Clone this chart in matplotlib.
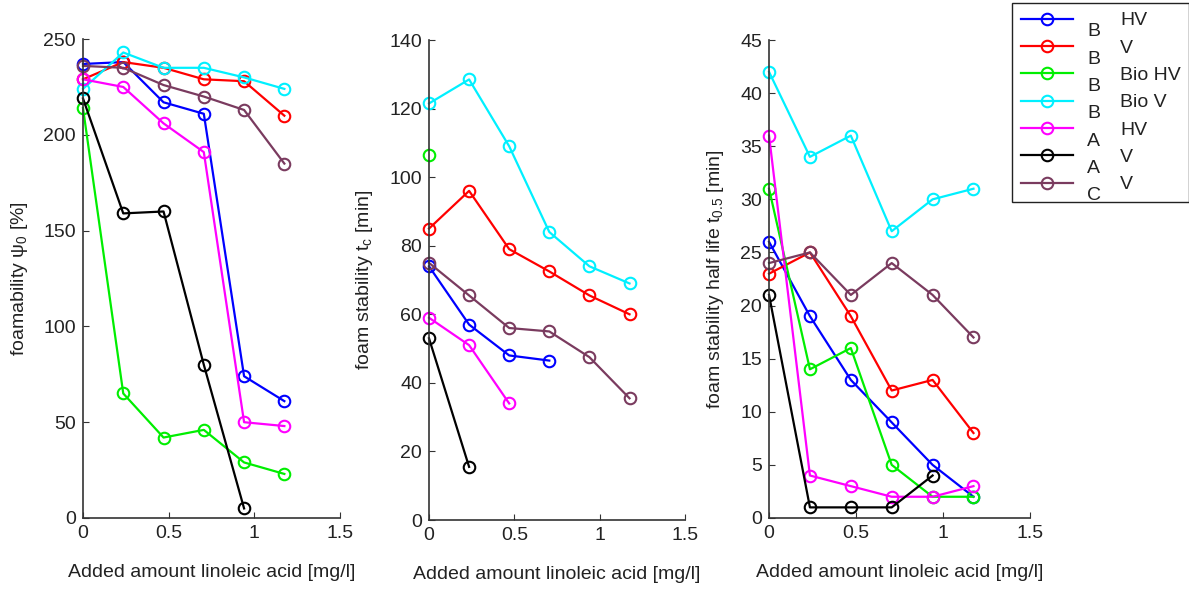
import matplotlib
matplotlib.use("Agg")
import matplotlib.pyplot as plt
from matplotlib.transforms import IdentityTransform

plt.rcParams['font.family'] = ['Liberation Sans', 'DejaVu Sans']
plt.rcParams['mathtext.fontset'] = 'custom'
plt.rcParams['mathtext.rm'] = 'Liberation Sans'
plt.rcParams['mathtext.it'] = 'Liberation Sans'

# added amount of linoleic acid [mg/l]
x = [0, 0.235, 0.47, 0.705, 0.94, 1.175]

prefixes = ["B", "B", "B", "B", "A", "A", "C"]
suffixes = ["HV", "V", "Bio HV", "Bio V", "HV", "V", "V"]
colors = ["#0000ff", "#ff0000", "#00ee00", "#00f0ff", "#ff00ff", "#000000", "#7a3b5f"]

# foamability psi_0 [%]
foamability = [
    [237, 238, 217, 211, 74, 61],
    [229, 238, 235, 229, 228, 210],
    [214, 65, 42, 46, 29, 23],
    [224, 243, 235, 235, 230, 224],
    [229, 225, 206, 191, 50, 48],
    [219, 159, 160, 80, 5],
    [236, 235, 226, 220, 213, 185],
]

# foam stability t_c [min]
stability = [
    [74, 57, 48, 46.5],
    [85, 96, 79, 72.5, 65.5, 60],
    [106.5],
    [121.5, 128.5, 109, 84, 74, 69],
    [59, 51, 34],
    [53, 15.5],
    [75, 65.5, 56, 55, 47.5, 35.5],
]

# foam stability half life t_0.5 [min]
half_life = [
    [26, 19, 13, 9, 5, 2],
    [23, 25, 19, 12, 13, 8],
    [31, 14, 16, 5, 2, 2],
    [42, 34, 36, 27, 30, 31],
    [36, 4, 3, 2, 2, 3],
    [21, 1, 1, 1, 4],
    [24, 25, 21, 24, 21, 17],
]

panels = [
    (foamability, r"foamability $\psi_0$ [%]", 250, 50, [0.0698, 0.125, 0.2162, 0.809]),
    (stability, r"foam stability $t_c$ [min]", 140, 20, [0.3608, 0.1216, 0.2153, 0.8108]),
    (half_life, r"foam stability half life $t_{0.5}$ [min]", 45, 5, [0.6468, 0.125, 0.2195, 0.8074]),
]

fig = plt.figure(figsize=(11.89, 5.92), dpi=100)
txt = "#222222"
fs = 14

handles = []
for data, ylab, ymax, ystep, rect in panels:
    ax = fig.add_axes(rect)
    for i, vals in enumerate(data):
        ln, = ax.plot(x[:len(vals)], vals, color=colors[i], lw=1.6, marker='o',
                      ms=8.3, mfc='none', mew=1.5, label=suffixes[i], clip_on=False)
        if data is foamability:
            handles.append(ln)
    ax.set_xlim(0, 1.5)
    ax.set_ylim(0, ymax)
    ax.set_xticks([0, 0.5, 1, 1.5])
    ax.set_xticklabels(["0", "0.5", "1", "1.5"])
    ax.set_yticks(range(0, ymax + 1, ystep))
    for s in ["top", "right"]:
        ax.spines[s].set_visible(False)
    for s in ["left", "bottom"]:
        ax.spines[s].set_color("#333333")
        ax.spines[s].set_linewidth(1.2)
    ax.tick_params(direction='in', length=4, labelsize=fs, colors="#333333",
                   labelcolor=txt, pad=5)
    ax.set_xlabel("Added amount linoleic acid [mg/l]", fontsize=fs, color=txt, labelpad=16)
    ax.set_ylabel(ylab, fontsize=fs, color=txt, labelpad=10)

leg = fig.legend(handles=handles, labels=suffixes, loc='upper left',
                 bbox_to_anchor=(1012 / 1189, 1 - 3 / 592), borderaxespad=0,
                 fontsize=fs, numpoints=1, handlelength=2.68, handletextpad=2.42,
                 labelspacing=0.5, frameon=True, fancybox=False, framealpha=1,
                 borderpad=0.45)
leg.get_frame().set_edgecolor("#222222")
leg.get_frame().set_linewidth(1.0)
for t in leg.get_texts():
    t.set_color(txt)

# the group letters sit a bit lower, left of each label
fig.canvas.draw()
for t, p in zip(leg.get_texts(), prefixes):
    bb = t.get_window_extent()
    fig.text(bb.x0 - 33, (bb.y0 + bb.y1) / 2 - 11, p, transform=IdentityTransform(),
             ha='left', va='center', fontsize=fs, color=txt, zorder=10)

fig.savefig("out.png", dpi=100)
